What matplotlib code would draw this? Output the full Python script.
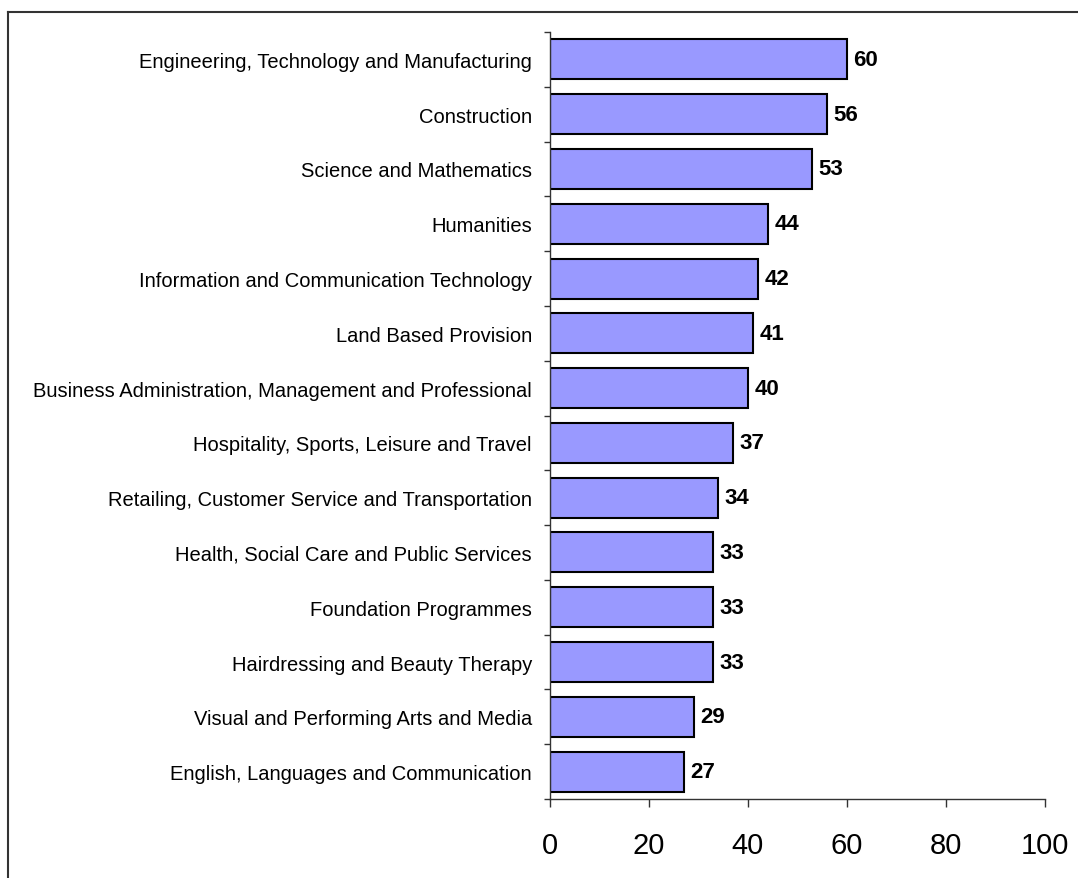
import numpy as np
import matplotlib.pyplot as plt
from matplotlib.lines import Line2D

plt.rcParams['font.family'] = ['Liberation Sans', 'DejaVu Sans']

# data (top to bottom)
categories = [
    "Engineering, Technology and Manufacturing",
    "Construction",
    "Science and Mathematics",
    "Humanities",
    "Information and Communication Technology",
    "Land Based Provision",
    "Business Administration, Management and Professional",
    "Hospitality, Sports, Leisure and Travel",
    "Retailing, Customer Service and Transportation",
    "Health, Social Care and Public Services",
    "Foundation Programmes",
    "Hairdressing and Beauty Therapy",
    "Visual and Performing Arts and Media",
    "English, Languages and Communication",
]
values = [60, 56, 53, 44, 42, 41, 40, 37, 34, 33, 33, 33, 29, 27]
x_ticks = [0, 20, 40, 60, 80, 100]

W, H = 1078, 879
fig = plt.figure(figsize=(W / 100, H / 100), dpi=100)
ax = fig.add_axes([550 / W, 1 - 800 / H, (1045 - 550) / W, (800 - 33) / H])

n = len(categories)
ypos = np.arange(n)[::-1]
ax.barh(ypos, values, height=0.73, color="#9999ff", edgecolor="black", linewidth=1.5)

for y, v in zip(ypos, values):
    ax.text(v + 1.3, y, str(v), va="center", ha="left", fontsize=16, fontweight="bold")

ax.set_xlim(0, 100)
ax.set_ylim(-0.5, n - 0.5)
ax.set_xticks(x_ticks)
ax.set_xticklabels([str(t) for t in x_ticks], fontsize=21)
ax.tick_params(axis="x", direction="out", length=6, width=1, pad=17, color="#333333")

# category boundaries as major ticks, labels on minor ticks
ax.set_yticks(np.arange(n + 1) - 0.5)
ax.set_yticklabels([])
ax.tick_params(axis="y", which="major", direction="out", length=4, width=1, color="#333333")
ax.set_yticks(ypos, minor=True)
ax.set_yticklabels(categories, minor=True, fontsize=14.5)
ax.tick_params(axis="y", which="minor", length=0, pad=13)

for s in ["top", "right"]:
    ax.spines[s].set_visible(False)
for s in ["left", "bottom"]:
    ax.spines[s].set_color("#333333")
    ax.spines[s].set_linewidth(1)

# outer frame (top and left edges visible)
fig.add_artist(Line2D([8 / W, 8 / W], [0, 1 - 13 / H], color="#333333", lw=1.5, transform=fig.transFigure))
fig.add_artist(Line2D([8 / W, 1], [1 - 13 / H, 1 - 13 / H], color="#333333", lw=1.5, transform=fig.transFigure))

fig.savefig("out.png", dpi=100, facecolor="white")
